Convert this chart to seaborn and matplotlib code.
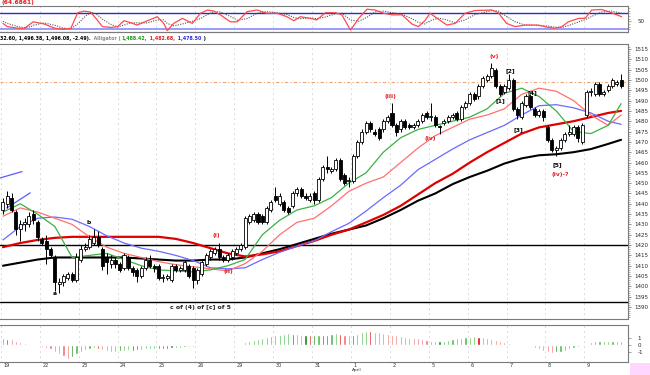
import numpy as np
import pandas as pd
import seaborn as sns
import matplotlib
matplotlib.use("Agg")
import matplotlib.pyplot as plt
from matplotlib.patches import Rectangle

# ==========================================
# DATA (9 bars per session)
# ==========================================
day_labels = ["19", "22", "23", "24", "25", "26", "29", "30", "31",
              "1", "2", "5", "6", "7", "8", "9"]

opens = [1437, 1440, 1443, 1436, 1428, 1430, 1430, 1435, 1431,
         1423, 1422, 1418, 1414, 1401, 1402, 1404, 1406, 1403,
         1413, 1418, 1419, 1421, 1424, 1418, 1414, 1411, 1413,
         1411, 1409, 1414, 1409, 1408, 1405, 1409, 1413, 1410,
         1410, 1404, 1404, 1403, 1410, 1408, 1408, 1410, 1409,
         1403, 1406, 1411, 1414, 1416, 1418, 1414, 1413, 1414,
         1416, 1418, 1419, 1431, 1432, 1435, 1434, 1431, 1437,
         1444, 1440, 1441, 1438, 1439, 1445, 1447, 1444, 1442,
         1445, 1442, 1452, 1458, 1456, 1457, 1461, 1454, 1451,
         1451, 1463, 1470, 1475, 1479, 1475, 1476, 1476, 1480,
         1484, 1478, 1476, 1480, 1478, 1477, 1478, 1480, 1484,
         1482, 1482, 1477.5, 1479, 1480, 1482, 1484, 1481, 1487,
         1489, 1493, 1492, 1497, 1500, 1502, 1505, 1497, 1494,
         1496, 1500, 1486, 1482, 1488, 1492, 1486, 1483, 1485,
         1477, 1471, 1466, 1467, 1471, 1474, 1474, 1477, 1470,
         1483, 1494, 1493, 1498, 1493, 1495, 1497, 1498, 1500]
closes = [1441, 1444, 1437, 1428, 1430, 1431, 1434, 1432, 1424,
          1421, 1418, 1415, 1402, 1402, 1405, 1406, 1403, 1414,
          1418, 1419, 1423, 1424, 1420, 1410, 1412, 1413, 1411,
          1408, 1415, 1409, 1407, 1405, 1409, 1413, 1410, 1409,
          1404, 1404.5, 1405, 1410, 1408, 1409, 1412, 1405, 1403,
          1408, 1412, 1415, 1417, 1418, 1414, 1413, 1415, 1417,
          1418, 1420, 1433, 1434, 1435, 1431, 1431, 1438, 1441,
          1442, 1444, 1437, 1436, 1445, 1447, 1444, 1443, 1444,
          1442, 1452, 1458, 1457, 1457, 1461, 1452, 1450, 1451.5,
          1463, 1470, 1475, 1479, 1476, 1474, 1472, 1480, 1482,
          1478, 1475, 1480, 1477, 1477, 1478, 1480, 1483, 1482,
          1482.5, 1478, 1477, 1480, 1482, 1483, 1481, 1487, 1489,
          1493, 1491, 1497, 1501, 1502, 1506, 1497, 1493, 1497,
          1500, 1486, 1483, 1489, 1492, 1487, 1483, 1485, 1482,
          1471, 1466, 1467, 1471, 1474, 1475, 1477, 1472, 1478,
          1494, 1494.5, 1498, 1493, 1494, 1497, 1500, 1499, 1497]
highs = [1443, 1446, 1445, 1437, 1432, 1433, 1436, 1437, 1432,
         1424, 1425, 1419, 1415, 1404, 1406, 1407, 1407, 1416,
         1420, 1421, 1425, 1428, 1427, 1419, 1416, 1415, 1414,
         1412, 1416, 1415, 1410, 1409, 1410, 1414, 1415, 1411,
         1411, 1406, 1406, 1411, 1411, 1410, 1413, 1411, 1410,
         1409, 1413, 1416, 1418, 1419, 1421, 1415, 1416, 1418,
         1419, 1421, 1434, 1435, 1436, 1436, 1435, 1439, 1442,
         1448, 1445, 1442, 1439, 1446, 1448, 1448, 1445, 1445,
         1446, 1453, 1459, 1463, 1458, 1462, 1462, 1455, 1453,
         1464, 1471, 1476, 1480, 1480, 1476, 1477, 1481, 1483,
         1489, 1479, 1481, 1481, 1479, 1479, 1481, 1484, 1485,
         1489, 1483, 1478, 1481, 1483, 1484, 1485, 1488, 1490,
         1494, 1494, 1498, 1502, 1503, 1508, 1506, 1498, 1498,
         1503, 1501, 1487, 1490, 1493, 1493, 1487, 1486, 1486,
         1478, 1472, 1468, 1472, 1475, 1478, 1478, 1478, 1479,
         1495, 1496, 1499, 1499, 1495, 1498, 1501, 1500, 1503]
lows = [1435, 1438, 1436, 1425, 1422, 1427, 1429, 1430, 1422,
        1420, 1411, 1414, 1398, 1397, 1400, 1403, 1402, 1402,
        1412, 1417, 1418, 1420, 1419, 1408, 1406, 1409, 1409,
        1407, 1408, 1408, 1405, 1402, 1404, 1408, 1409, 1407,
        1403, 1402, 1403, 1402, 1407, 1407, 1407, 1404, 1399,
        1401, 1405, 1410, 1413, 1415, 1413, 1412, 1412, 1413,
        1415, 1417, 1418, 1430, 1431, 1430, 1430, 1430, 1436,
        1441, 1439, 1436, 1435, 1438, 1444, 1443, 1442, 1441,
        1440, 1441, 1451, 1455, 1455, 1456, 1451, 1449, 1448,
        1450, 1462, 1469, 1474, 1475, 1473, 1471, 1475, 1479,
        1477, 1473, 1475, 1476, 1476, 1476, 1477, 1479, 1481,
        1480, 1477, 1474, 1478, 1479, 1481, 1480, 1480, 1486,
        1488, 1490, 1491, 1496, 1499, 1501, 1496, 1492, 1493,
        1495, 1485, 1481, 1481, 1487, 1486, 1482, 1482, 1480,
        1470, 1465, 1463, 1466, 1470, 1473, 1473, 1470, 1469,
        1482, 1492, 1492, 1492, 1492, 1494, 1496, 1497, 1496]

# moving averages, sampled every few bars
ma_idx = [0, 4, 8, 12, 16, 20, 24, 28, 32, 36, 40, 44, 48, 52, 56, 60, 64, 68,
          72, 76, 80, 84, 88, 92, 96, 100, 104, 108, 112, 116, 120, 124, 128,
          132, 136, 140, 143]
lips = [1436, 1440, 1435, 1429, 1414, 1415, 1416, 1413, 1410, 1408, 1407.5, 1407,
        1408, 1410, 1413, 1425, 1432, 1437, 1439, 1443, 1450, 1455, 1465, 1472,
        1476, 1478, 1480, 1482, 1486, 1493.5, 1496, 1492, 1485, 1475, 1474, 1478, 1488.5]
teeth = [1434, 1438, 1436, 1433, 1430, 1424, 1419, 1416, 1414, 1412, 1410.5, 1409.5,
         1408.5, 1407.5, 1411, 1417, 1425, 1431, 1433, 1439, 1446, 1450, 1453, 1460,
         1467, 1473, 1477, 1481, 1483, 1486, 1493, 1496, 1494.5, 1490, 1483, 1478, 1483]
jaw = [1422.5, 1429, 1433, 1433.6, 1432.5, 1429, 1424.5, 1421, 1418.5, 1417, 1415,
       1412.5, 1409, 1408.5, 1409, 1413, 1416.5, 1419.5, 1422, 1426.5, 1430.5, 1436.5,
       1443, 1449, 1456.5, 1461.5, 1466.5, 1471, 1474.5, 1478, 1483, 1487.5, 1488,
       1486.5, 1484, 1480, 1478.5]
ma_red = [1419, 1421, 1422.5, 1423.5, 1424, 1424, 1424, 1424, 1424, 1424, 1423, 1421,
          1418.5, 1416, 1414.5, 1415.5, 1417, 1419.5, 1422, 1425, 1427.5, 1431, 1434.6,
          1439, 1444.5, 1450, 1454.5, 1460, 1465, 1469.5, 1474, 1477, 1478.5, 1480,
          1482, 1484, 1485]
ma_black = [1410, 1411.5, 1413, 1414, 1414, 1414, 1414, 1414, 1413.5, 1413, 1412.5,
            1412.5, 1413, 1413, 1414, 1416, 1418, 1420.5, 1423, 1425.5, 1427.5, 1429.5,
            1433, 1437, 1441.5, 1445, 1449.5, 1453, 1456, 1459.5, 1462, 1463.5, 1464,
            1465, 1466.5, 1469, 1471]

# stochastic (top pane)
stoch_x = [0, 1, 3.5, 5, 6.5, 7, 9.5, 12, 14, 15.7,
           17.3, 18.8, 20.3, 21.5, 23, 25, 26.5, 28, 29.5, 31,
           33.4, 35.7, 37.2, 38, 39.5, 41.5, 43.8, 45.7, 47.3, 48.8,
           50.3, 52.6, 54.2, 56.5, 58.8, 61, 63.4, 65.7, 67.3, 68.8,
           71, 72.6, 74.6, 76.9, 78.4, 80.4, 82.3, 84.2, 86.1, 88.1,
           90, 92.3, 94.6, 96.1, 97.6, 98.8, 100.8, 102.7, 104.6, 106.9,
           109.2, 113.1, 114.6, 116.5, 118.5, 120.8, 123.8, 126.2, 127.7, 129.3,
           130.8, 133.2, 134.7, 136.2, 138.5, 140.8, 143.1]
stoch_k = [42, 30, 24, 24, 42, 48, 40, 24, 20, 24,
           82, 88, 84, 61, 30, 27, 30, 52, 45, 36,
           52, 67, 42, 15, 42, 61, 42, 80, 92, 88,
           74, 48, 48, 86, 92, 80, 80, 67, 52, 67,
           61, 55, 82, 82, 74, 17, 61, 95, 92, 80,
           74, 74, 40, 30, 52, 80, 57, 36, 42, 80,
           90, 92, 82, 42, 30, 36, 36, 27, 24, 30,
           48, 61, 61, 92, 94, 82, 67]
stoch_d = [50, 42, 30, 26, 30, 35, 44, 35, 24, 22,
           40, 65, 84, 78, 58, 38, 29, 36, 44, 44,
           44, 55, 55, 42, 33, 40, 50, 60, 75, 86,
           85, 68, 54, 60, 80, 86, 82, 75, 64, 60,
           62, 60, 66, 78, 80, 55, 50, 65, 85, 88,
           82, 76, 60, 46, 40, 52, 62, 55, 44, 55,
           75, 90, 88, 68, 48, 36, 34, 32, 28, 27,
           34, 48, 56, 68, 85, 88, 80]

# MACD histogram (bottom pane)
macd_hist = [0.9, 0.85, 0.75, 0.55, 0.4, 0.3, 0.2, 0.1,
             -0.1, -0.25, -0.45, -0.6, -0.9, -1.2, -1.45, -1.9, -1.65, -1.2,
             -0.9, -0.7, -0.5, -0.45,
             -0.55, -0.7, -0.8, -0.9, -1.0, -0.85, -0.8, -0.7, -0.75,
             -0.7, -0.65, -0.6, -0.55, -0.5,
             -0.55, -0.5, -0.55, -0.45, -0.4, -0.35, -0.3, -0.3, -0.25, -0.2, -0.15,
             -0.1, -0.05, 0.0, 0.05, 0.05, 0.1, 0.1, 0.15, 0.2,
             0.35, 0.5, 0.7, 0.85, 1.0, 1.1, 1.2, 1.3, 1.4,
             1.5, 1.55, 1.5, 1.45, 1.4, 1.4, 1.35, 1.35, 1.4, 1.3, 1.3,
             1.5, 1.55, 1.45, 1.35, 1.3, 1.35, 1.5, 1.75, 1.9,
             1.85, 1.75, 1.7, 1.6, 1.5, 1.4, 1.3, 1.2, 1.1,
             1.0, 0.95, 0.9, 0.8, 0.7, 0.6, 0.55, 0.55, 0.6, 0.7,
             0.8, 0.9, 1.0, 1.05, 1.1, 1.15, 1.1, 1.05, 0.95,
             0.8, 0.65, 0.5, 0.35, 0.25, 0.15, 0.05, 0.02, 0.02,
             -0.2, -0.4, -0.6, -0.85, -1.0, -1.1, -1.0, -0.9, -0.75, -0.6,
             -0.4, -0.25, -0.1, 0.2, 0.4, 0.5, 0.55, 0.55, 0.6, 0.6, 0.6, 0.6]

wave_labels = [("a", 12.0, 1396.5, "black"), ("b", 19.9, 1431.0, "black"),
               ("(i)", 49.3, 1424.5, "#e02020"), ("(ii)", 52.1, 1407.0, "#e02020"),
               ("(iii)", 89.6, 1492.0, "#e02020"), ("(iv)", 98.8, 1471.5, "#e02020"),
               ("(v)", 113.7, 1511.5, "#e02020"), ("[1]", 115.0, 1490.0, "black"),
               ("[2]", 117.4, 1504.5, "black"), ("[3]", 119.2, 1476.0, "black"),
               ("[4]", 122.5, 1494.0, "black"), ("[5]", 128.2, 1459.0, "black"),
               ("(iv)-?", 128.9, 1454.0, "#e02020")]

header_parts = [("32.60, 1,496.38, 1,496.08, -2.49).", "black"),
                (" Alligator (", "#8a8a8a"),
                ("1,488.42,", "#1a9a1a"),
                (" 1,482.68,", "#e02020"),
                (" 1,478.50", "#2a2ae0"),
                (" )", "black")]

# ==========================================
# STYLE / LAYOUT
# ==========================================
sns.set_style("white")
plt.rcParams["font.family"] = ["DejaVu Sans"]
W, H = 650, 375
fig = plt.figure(figsize=(6.5, 3.75), dpi=100)


def box(x0, y0, x1, y1):
    return [x0 / W, 1 - y1 / H, (x1 - x0) / W, (y1 - y0) / H]


ax_st = fig.add_axes(box(0, 6, 628, 32))
ax = fig.add_axes(box(0, 44, 628, 319))
ax_m = fig.add_axes(box(0, 325, 628, 362))

n = len(closes)
xlim = (-0.69, 144.6)
day_ticks = [9 * k - 0.5 for k in range(len(day_labels))]
frame = "#7a7a7a"

for a in (ax_st, ax, ax_m):
    a.set_xlim(*xlim)
    for s in a.spines.values():
        s.set_color(frame)
        s.set_linewidth(0.8)
    a.spines["left"].set_visible(False)
    for t in day_ticks:
        a.axvline(t, color="#a0a0a0", lw=0.6, ls=(0, (1, 5)), zorder=0)

# ---------- main price pane ----------
df = pd.DataFrame({"o": opens, "h": highs, "l": lows, "c": closes})
df["i"] = np.arange(n)
up = df["c"] >= df["o"]

ax.axhline(1420, color="black", lw=1.0, zorder=1)
ax.axhline(1392.5, color="black", lw=1.0, zorder=1)
ax.axhline(1499, color="#f3a36f", lw=0.8, ls=(0, (3, 2, 1, 2)), zorder=1)

ma = pd.DataFrame({"i": ma_idx, "lips": lips, "teeth": teeth, "jaw": jaw,
                   "red": ma_red, "black": ma_black})
for col, color, lw in [("black", "black", 1.5), ("red", "#e00000", 1.6),
                       ("jaw", "#6a6aff", 0.9), ("teeth", "#ff7070", 0.9),
                       ("lips", "#3cb043", 0.9)]:
    sns.lineplot(data=ma, x="i", y=col, ax=ax, color=color, lw=lw, zorder=2)

# short blue trendlines top left
ax.plot([-0.7, 4.4], [1452.5, 1455.6], color="#5a5aff", lw=0.9, zorder=2)
ax.plot([0.9, 6.3], [1438.0, 1445.3], color="#5a5aff", lw=0.9, zorder=2)

ax.vlines(df["i"], df["l"], df["h"], color="black", lw=0.7, zorder=3)
body_lo = df[["o", "c"]].min(axis=1)
body_h = (df["c"] - df["o"]).abs().clip(lower=0.4)
ax.bar(df["i"], body_h, bottom=body_lo, width=0.7,
       color=np.where(up, "white", "black"), edgecolor="black", linewidth=0.6, zorder=4)

for txt, xi, yv, col in wave_labels:
    ax.text(xi, yv, txt, color=col, fontsize=4.3, ha="center", va="center",
            fontweight="bold", zorder=6)
ax.text(45.6, 1390, "c of (4) of [c] of 5", fontsize=4.5, fontweight="bold",
        ha="center", va="center")

ax.set_ylim(1384.2, 1517.4)
ax.yaxis.tick_right()
ax.set_yticks(np.arange(1390, 1516, 5))
ax.set_yticks(np.arange(1385, 1517, 1), minor=True)
ax.tick_params(axis="y", which="major", labelsize=4, length=2.5, width=0.6,
               color=frame, pad=2, direction="out")
ax.tick_params(axis="y", which="minor", length=1.2, width=0.4, color=frame)
ax.set_xticks([])
ax.set_xlabel("")
ax.set_ylabel("")

# ---------- stochastic pane ----------
st = pd.DataFrame({"x": stoch_x, "k": stoch_k, "d": stoch_d})
ax_st.axhline(80, color="#2a2acc", lw=1.0, zorder=1)
ax_st.axhline(20, color="#9a9aff", lw=1.4, zorder=1)
sns.lineplot(data=st, x="x", y="d", ax=ax_st, color="#555555", lw=0.8,
             ls=(0, (1, 1.2)), zorder=2)
sns.lineplot(data=st, x="x", y="k", ax=ax_st, color="#ff4a4a", lw=0.9, zorder=3)
ax_st.set_ylim(10, 107)
ax_st.yaxis.tick_right()
ax_st.set_yticks([50])
ax_st.set_yticks(np.arange(20, 101, 10), minor=True)
ax_st.tick_params(axis="y", labelsize=4, length=2, width=0.5, color=frame, pad=5)
ax_st.tick_params(axis="y", which="minor", length=1.2, width=0.4, color=frame)
ax_st.set_xticks([])
ax_st.set_xlabel("")
ax_st.set_ylabel("")

# ---------- MACD histogram pane ----------
hist = np.array(macd_hist)
prev = np.r_[hist[0], hist[:-1]]
rising = hist >= prev
turn = np.r_[False, rising[1:] != rising[:-1]]
colors = []
for r, t in zip(rising, turn):
    if r:
        colors.append("#118a11" if t else "#4fbb4f")
    else:
        colors.append("#dd0c0c" if t else "#f07272")
ax_m.bar(np.arange(n), hist, width=0.5, color=colors, zorder=2)
ax_m.set_ylim(-2.27, 2.67)
ax_m.yaxis.tick_right()
ax_m.set_yticks([-1, 0, 1])
ax_m.set_yticklabels(["-1", "0", "1"])
ax_m.tick_params(axis="y", labelsize=4, length=2, width=0.5, color=frame, pad=5)
ax_m.set_xticks(day_ticks)
ax_m.set_xticks(np.arange(n), minor=True)
ax_m.set_xticklabels([])
ax_m.tick_params(axis="x", which="major", length=4, width=0.7, color="#444444")
ax_m.tick_params(axis="x", which="minor", length=2, width=0.5, color="#444444")
ax_m.set_xlabel("")
ax_m.set_ylabel("")
for t, lab in zip(day_ticks, day_labels):
    ax_m.text(t + 0.6, -0.03, lab, transform=ax_m.get_xaxis_transform(),
              fontsize=3.6, ha="left", va="top", color="#333333")
ax_m.text(day_ticks[9] + 0.2, -0.17, "April", transform=ax_m.get_xaxis_transform(),
          fontsize=3.1, ha="left", va="top", color="#333333")

# ---------- header texts ----------
fig.text(2 / W, 1 - 2.5 / H, "(64.6861)", color="#e02020", fontsize=4.3,
         fontweight="bold", va="center", ha="left")
renderer = fig.canvas.get_renderer()
hx = 0.0
hy = 1 - 38.5 / H
for txt, col in header_parts:
    t = fig.text(hx, hy, txt, color=col, fontsize=3.4, fontweight="bold",
                 va="center", ha="left")
    bb = t.get_window_extent(renderer=renderer)
    hx = bb.x1 / fig.bbox.width + 1 / W
fig.add_artist(plt.Line2D([0, 628 / W], [1 - 32 / H] * 2, color=frame, lw=0.8))

fig.patches.append(Rectangle((630 / W, 0), 20 / W, 12 / H, transform=fig.transFigure,
                             facecolor="#ffd6ff", edgecolor="none"))

fig.savefig("out.png", dpi=100)
